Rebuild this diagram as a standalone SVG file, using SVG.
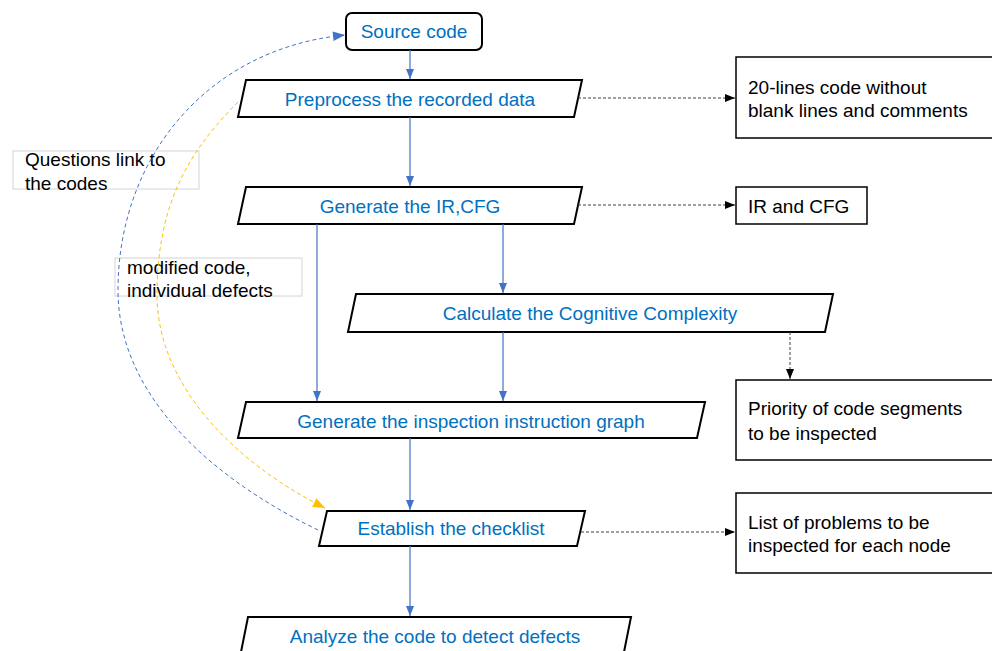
<svg xmlns="http://www.w3.org/2000/svg" width="992" height="651" viewBox="0 0 992 651">
<style>
.node{fill:#fff;stroke:#000;stroke-width:2}
.box{fill:#fff;stroke:#000;stroke-width:1.5}
.lbl{fill:none;stroke:#d4d4d4;stroke-width:1}
.nt{font-family:"Liberation Sans",Arial,sans-serif;font-size:19px;fill:#0070C0;text-anchor:middle}
.bt{font-family:"Liberation Sans",Arial,sans-serif;font-size:19px;fill:#000}
.flow{stroke:#4472C4;stroke-width:1.2;fill:none;marker-end:url(#ab)}
.dash{stroke:#404040;stroke-width:1;stroke-dasharray:3 2;fill:none;marker-end:url(#ak)}
.bcurve{stroke:#4472C4;stroke-width:1;stroke-dasharray:4 3;fill:none;marker-end:url(#ab2)}
.ycurve{stroke:#FFC000;stroke-width:1;stroke-dasharray:4 3;fill:none;marker-end:url(#ay)}
</style>
<defs>
<marker id="ab" viewBox="0 0 10 10" refX="10" refY="5" markerWidth="10" markerHeight="10" markerUnits="userSpaceOnUse" orient="auto"><path d="M0,1 L10,5 L0,9 Z" fill="#4472C4"/></marker>
<marker id="ab2" viewBox="0 0 10 10" refX="10" refY="5" markerWidth="13" markerHeight="12" markerUnits="userSpaceOnUse" orient="auto"><path d="M0,1 L10,5 L0,9 Z" fill="#4472C4"/></marker>
<marker id="ay" viewBox="0 0 10 10" refX="10" refY="5" markerWidth="13" markerHeight="12" markerUnits="userSpaceOnUse" orient="auto"><path d="M0,1 L10,5 L0,9 Z" fill="#FFC000"/></marker>
<marker id="ak" viewBox="0 0 10 10" refX="10" refY="5" markerWidth="10" markerHeight="10" markerUnits="userSpaceOnUse" orient="auto"><path d="M0,1 L10,5 L0,9 Z" fill="#000"/></marker>
</defs>
<rect width="992" height="651" fill="#fff"/>

<g id="source"><rect class="node" x="346" y="13" width="136" height="37" rx="6"/><text class="nt" x="414" y="38">Source code</text></g>
<g id="preprocess"><polygon class="node" points="246,80 582,80 574,117 238,117"/><text class="nt" x="410" y="106">Preprocess the recorded data</text></g>
<g id="genir"><polygon class="node" points="246,187 582,187 574,224 238,224"/><text class="nt" x="410" y="213">Generate the IR,CFG</text></g>
<g id="calc"><polygon class="node" points="356,294 833,294 825,332 348,332"/><text class="nt" x="590" y="320">Calculate the Cognitive Complexity</text></g>
<g id="geninsp"><polygon class="node" points="246,402 705,402 697,438 238,438"/><text class="nt" x="471" y="428">Generate the inspection instruction graph</text></g>
<g id="checklist"><polygon class="node" points="327,511 585,511 577,546 319,546"/><text class="nt" x="451" y="535">Establish the checklist</text></g>
<g id="analyze"><polygon class="node" points="248,617 631,617 624,652 241,652"/><text class="nt" x="435" y="643">Analyze the code to detect defects</text></g>

<g id="out1"><rect class="box" x="736" y="57" width="270" height="81"/><text class="bt" x="748" y="94">20-lines code without</text><text class="bt" x="748" y="117">blank lines and comments</text></g>
<g id="out2"><rect class="box" x="736" y="187" width="131" height="37"/><text class="bt" x="748" y="213">IR and CFG</text></g>
<g id="out3"><rect class="box" x="736" y="380" width="270" height="80"/><text class="bt" x="748" y="415">Priority of code segments</text><text class="bt" x="748" y="440">to be inspected</text></g>
<g id="out4"><rect class="box" x="736" y="493" width="270" height="80"/><text class="bt" x="748" y="529">List of problems to be</text><text class="bt" x="748" y="552">inspected for each node</text></g>

<g id="lbl1"><rect class="lbl" x="13" y="151" width="186" height="38"/><text class="bt" x="25" y="166">Questions link to</text><text class="bt" x="25" y="190">the codes</text></g>
<g id="lbl2"><rect class="lbl" x="115" y="258" width="187" height="38"/><text class="bt" x="127" y="274">modified code,</text><text class="bt" x="127" y="297">individual defects</text></g>

<g id="connectors">
<line class="flow" x1="410" y1="50" x2="410" y2="79"/>
<line class="flow" x1="410" y1="117" x2="410" y2="186"/>
<line class="flow" x1="317" y1="224" x2="317" y2="401"/>
<line class="flow" x1="503" y1="224" x2="503" y2="293"/>
<line class="flow" x1="503" y1="332" x2="503" y2="401"/>
<line class="flow" x1="410" y1="438" x2="410" y2="510"/>
<line class="flow" x1="410" y1="546" x2="410" y2="616"/>
<line class="dash" x1="578" y1="98" x2="735" y2="98"/>
<line class="dash" x1="578" y1="205" x2="735" y2="205"/>
<line class="dash" x1="790" y1="332" x2="790" y2="379"/>
<line class="dash" x1="581" y1="532" x2="735" y2="532"/>
<path class="bcurve" d="M318,530 C219,482 118,400 118,290 C118,160 205,49 345,35"/>
<path class="ycurve" d="M238,102 C188,152 157,205 157,295 C157,385 235,463 325,508"/>
</g>
</svg>
